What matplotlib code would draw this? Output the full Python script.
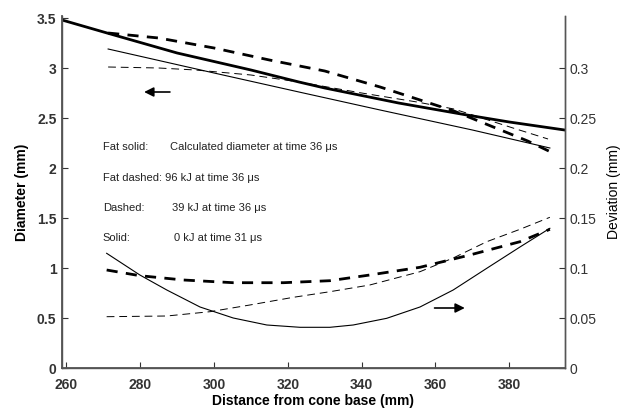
import matplotlib
matplotlib.use('Agg')
import matplotlib.pyplot as plt

plt.rcParams['font.family'] = ['Liberation Sans', 'DejaVu Sans']

# diameter curves (left axis, mm)
x_fat_solid = [258.8, 271, 290, 310, 323, 330, 350, 368.5, 380, 395]
d_fat_solid = [3.48, 3.35, 3.15, 2.98, 2.86, 2.80, 2.65, 2.53, 2.46, 2.38]

x_fat_dash = [271.3, 285, 300, 315, 330, 345, 355, 365, 375, 385, 392.4]
d_fat_dash = [3.35, 3.30, 3.20, 3.08, 2.97, 2.81, 2.69, 2.57, 2.42, 2.27, 2.14]

x_dash = [271.3, 285, 295, 310, 323, 340, 355, 365, 381, 390.5]
d_dash = [3.01, 3.00, 2.98, 2.93, 2.86, 2.75, 2.66, 2.59, 2.40, 2.29]

x_solid = [271.3, 300, 323, 345, 370, 391]
d_solid = [3.19, 2.95, 2.76, 2.58, 2.38, 2.20]

# deviation curves (right axis, mm)
x_dev_fat_dash = [270.9, 279.9, 291.7, 305.2, 318.8, 331.4, 342.2, 355.8, 369.3, 382.9, 391.0]
v_dev_fat_dash = [0.098, 0.0923, 0.088, 0.0853, 0.0853, 0.0873, 0.093, 0.1007, 0.113, 0.1263, 0.1387]

x_dev_dash = [270.9, 287.2, 298.9, 309.7, 321.5, 331.4, 342.2, 355.8, 364.8, 373.9, 382.9, 391.0]
v_dev_dash = [0.0513, 0.052, 0.0563, 0.063, 0.0707, 0.0763, 0.083, 0.0963, 0.110, 0.1263, 0.1387, 0.1507]

x_dev_solid = [270.9, 279.9, 287.2, 296.2, 305.2, 314.3, 323.3, 331.4, 337.7, 346.8,
               355.8, 364.8, 373.9, 382.9, 391.0]
v_dev_solid = [0.1147, 0.093, 0.078, 0.061, 0.050, 0.043, 0.0407, 0.0407, 0.043, 0.0497,
               0.061, 0.078, 0.0997, 0.121, 0.1397]

x_ticks = [260, 280, 300, 320, 340, 360, 380]
left_ticks = [0, 0.5, 1, 1.5, 2, 2.5, 3, 3.5]
left_labels = ['0', '0.5', '1', '1.5', '2', '2.5', '3', '3.5']
right_ticks = [0, 0.05, 0.1, 0.15, 0.2, 0.25, 0.3]
right_labels = ['0', '0.05', '0.1', '0.15', '0.2', '0.25', '0.3']

fig = plt.figure(figsize=(6.26, 4.12), dpi=100)
ax = fig.add_axes([62/626, 1 - 368/412, 503/626, 352/412])
ax2 = ax.twinx()

ax.plot(x_fat_solid, d_fat_solid, color='black', lw=2.0)
ax.plot(x_fat_dash, d_fat_dash, color='black', lw=2.0, dashes=(4, 3))
ax.plot(x_dash, d_dash, color='black', lw=0.7, dashes=(8, 5))
ax.plot(x_solid, d_solid, color='black', lw=0.8)

ax2.plot(x_dev_fat_dash, v_dev_fat_dash, color='black', lw=2.0, dashes=(4, 3))
ax2.plot(x_dev_dash, v_dev_dash, color='black', lw=0.7, dashes=(8, 5))
ax2.plot(x_dev_solid, v_dev_solid, color='black', lw=0.8)

ax.set_xlim(258.8, 395.1)
ax.set_ylim(0, 3.52)
ax2.set_ylim(0, 0.352)

ax.set_xticks(x_ticks)
ax.set_xticklabels([str(t) for t in x_ticks], fontweight='bold', fontsize=10)
ax.set_yticks(left_ticks)
ax.set_yticklabels(left_labels, fontweight='bold', fontsize=10)
ax2.set_yticks(right_ticks)
ax2.set_yticklabels(right_labels, fontsize=10)

ax.tick_params(direction='in', length=4, width=0.8, colors='#333333')
ax.tick_params(axis='x', pad=7)
ax.tick_params(axis='y', pad=4)
ax2.tick_params(direction='in', length=4, width=0.8, pad=3, colors='#333333')

for a in (ax, ax2):
    a.spines['top'].set_visible(False)
    for s in ('left', 'right', 'bottom'):
        a.spines[s].set_color('#555555')
        a.spines[s].set_linewidth(1.0)
ax.spines['left'].set_linewidth(1.3)
ax.spines['bottom'].set_linewidth(1.3)

ax.set_xlabel('Distance from cone base (mm)', fontweight='bold', fontsize=10, labelpad=2)
ax.set_ylabel('Diameter (mm)', fontweight='bold', fontsize=10, labelpad=6)
ax2.set_ylabel('Deviation (mm)', fontsize=10, labelpad=8)

# legend texts
tc = '#222222'
ax.text(269.9, 2.21, 'Fat solid:', fontsize=8, color=tc, va='center')
ax.text(288.1, 2.21, 'Calculated diameter at time 36 μs', fontsize=8, color=tc, va='center')
ax.text(269.9, 1.90, 'Fat dashed: 96 kJ at time 36 μs', fontsize=8, color=tc, va='center')
ax.text(269.9, 1.60, 'Dashed:', fontsize=8, color=tc, va='center')
ax.text(288.6, 1.60, '39 kJ at time 36 μs', fontsize=8, color=tc, va='center')
ax.text(269.9, 1.30, 'Solid:', fontsize=8, color=tc, va='center')
ax.text(289.1, 1.30, '0 kJ at time 31 μs', fontsize=8, color=tc, va='center')

# arrows pointing to the axis of each group
ax.annotate('', xy=(280.3, 2.76), xytext=(288.8, 2.76),
            arrowprops=dict(arrowstyle='-|>', color='black', lw=1.2, mutation_scale=14))
ax.annotate('', xy=(368.7, 0.60), xytext=(359.0, 0.60),
            arrowprops=dict(arrowstyle='-|>', color='black', lw=1.2, mutation_scale=14))

fig.savefig('out.png', dpi=100)
